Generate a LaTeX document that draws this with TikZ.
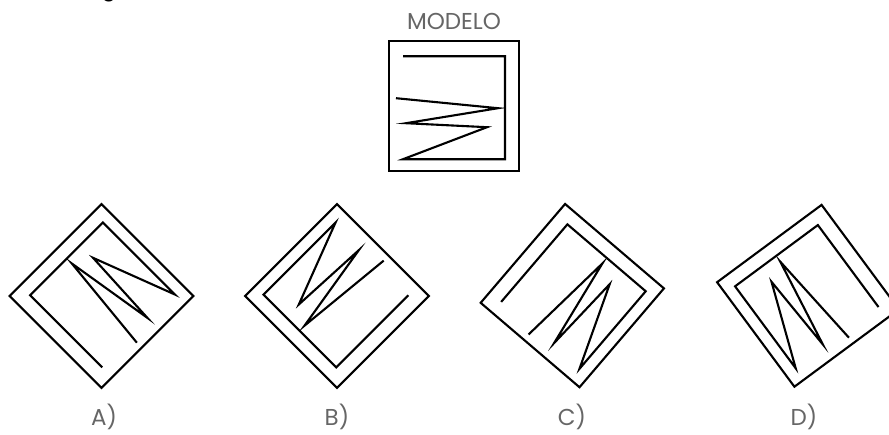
\documentclass[tikz,border=0pt]{standalone}
\usepackage{fontspec}
\setmainfont{Poppins}
\newcommand\drawfigura{%
  \draw[figline] (-65,-65) -- (65,-65) -- (65,65) -- (-65,65) -- cycle;
  \draw[figline] (-51,-50) -- (51,-50) -- (51,53) -- (-51,53) -- (33,21) -- (-48,17) -- (44,2) -- (-58,-8);
}
\begin{document}
\begin{tikzpicture}[x=1pt,y=-1pt,
  figline/.style={line width=2.1pt, draw=black, line join=miter},
  lbl/.style={font=\fontsize{23}{25}\selectfont, text=black!60, inner sep=0pt, anchor=base}]
\useasboundingbox (0,0) rectangle (889,434);
\clip (0,0) rectangle (889,434);
% cropped title glyph at the top edge
\node[font=\bfseries\fontsize{20}{22}\selectfont, inner sep=0pt, anchor=base] (cut) at (109,-3.5) {g};
% model
\node[lbl] (modelo) at (454,29) {MODELO};
\begin{scope}[shift={(454,106.2)}]
  \drawfigura
\end{scope}
% option A
\begin{scope}[shift={(101.5,296)}, rotate=135]
  \drawfigura
\end{scope}
% option B
\begin{scope}[shift={(337,296)}, rotate=-135]
  \drawfigura
\end{scope}
% option C
\begin{scope}[shift={(572.3,295.6)}, rotate=49.5]
  \drawfigura
\end{scope}
% option D (mirrored)
\begin{scope}[shift={(808,295.8)}, rotate=126.5, yscale=-1]
  \drawfigura
\end{scope}
\node[lbl] (la) at (104,425) {A)};
\node[lbl] (lb) at (337,425) {B)};
\node[lbl] (lc) at (572,425) {C)};
\node[lbl] (ld) at (804,425) {D)};
\end{tikzpicture}
\end{document}
